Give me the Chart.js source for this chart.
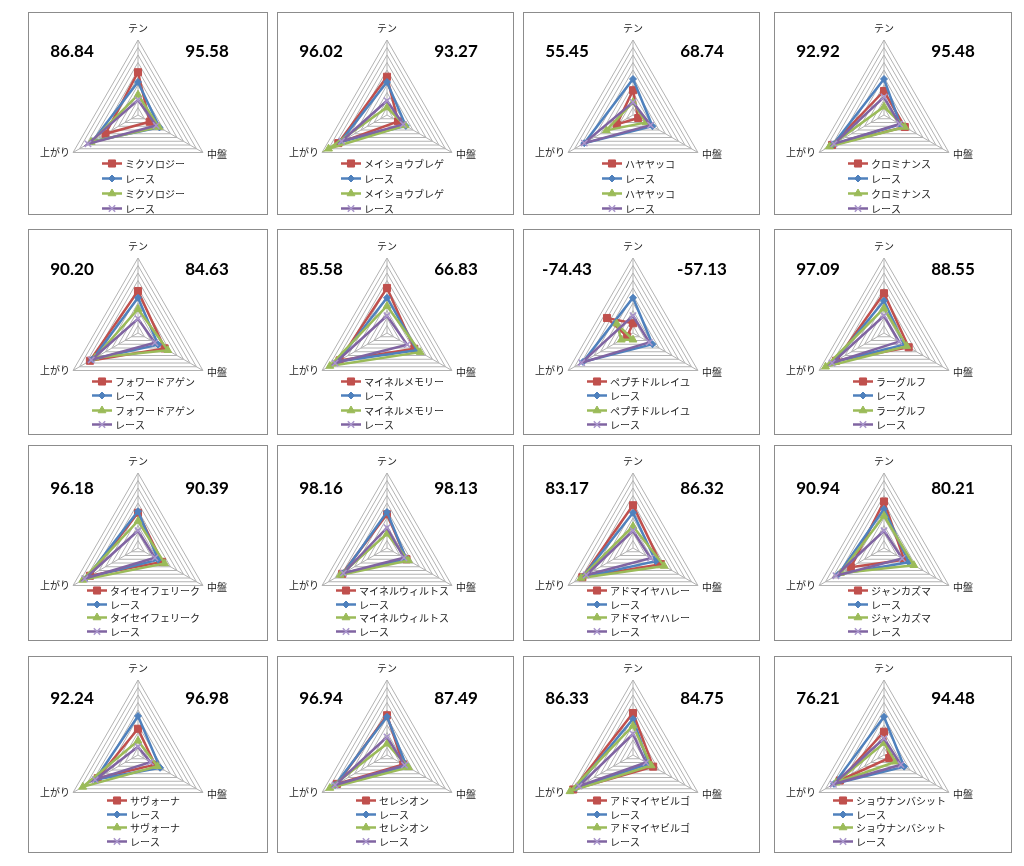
<!DOCTYPE html>
<html>
<head>
<meta charset="utf-8">
<script src="https://cdn.jsdelivr.net/npm/chart.js@4"></script>
<style>
  body { margin: 0; background: #fff; width: 1024px; height: 866px; position: relative; overflow: hidden; }
  .panel { position: absolute; border: 1px solid #8c8c8c; box-sizing: border-box; background: #fff; }
  .panel canvas { position: absolute; left: 0; top: 0; }
</style>
</head>
<body>
<script>
// axes of every radar (clockwise from the top)
const axisLabels = ['テン', '中盤', '上がり'];
const raceLabel = 'レース';

const horseNames = [
  'ミクソロジー', 'メイショウブレゲ', 'ハヤヤッコ', 'クロミナンス',
  'フォワードアゲン', 'マイネルメモリー', 'ペプチドルレイユ', 'ラーグルフ',
  'タイセイフェリーク', 'マイネルウィルトス', 'アドマイヤハレー', 'ジャンカズマ',
  'サヴォーナ', 'セレシオン', 'アドマイヤビルゴ', 'ショウナンバシット'
];
const leftScores = [86.84, 96.02, 55.45, 92.92, 90.20, 85.58, -74.43, 97.09,
                    96.18, 98.16, 83.17, 90.94, 92.24, 96.94, 86.33, 76.21];
const rightScores = [95.58, 93.27, 68.74, 95.48, 84.63, 66.83, -57.13, 88.55,
                     90.39, 98.13, 86.32, 80.21, 96.98, 87.49, 84.75, 94.48];

// [テン, 中盤, 上がり] per panel
const horseRed = [
  [57, 18, 50], [51, 17, 75], [33, 8, 25], [32, 32, 80],
  [56, 41, 74], [60, 42, 73], [13, -40, 9], [53, 38, 74],
  [47, 37, 74], [45, 30, 69], [57, 43, 78], [62, 31, 51],
  [35, 26, 62], [53, 25, 77], [56, 31, 92], [31, 8, 68]
];
const raceBlue = [
  [44, 33, 70], [44, 29, 72], [48, 30, 75], [48, 25, 78],
  [47, 31, 70], [47, 46, 76], [47, 30, 77], [43, 31, 77],
  [49, 31, 79], [48, 30, 67], [47, 35, 78], [52, 38, 70],
  [52, 34, 66], [51, 30, 80], [48, 24, 88], [51, 31, 77]
];
const horseGreen = [
  [27, 32, 72], [10, 28, 90], [17, 20, 41], [11, 32, 84],
  [32, 46, 66], [36, 51, 88], [-9, -25, 18], [33, 35, 90],
  [36, 41, 85], [19, 33, 72], [29, 48, 80], [43, 46, 67],
  [19, 30, 85], [15, 33, 88], [39, 28, 97], [16, 18, 74]
];
const racePurple = [
  [20, 28, 77], [19, 25, 70], [17, 27, 75], [24, 24, 77],
  [19, 26, 72], [23, 31, 80], [23, 25, 79], [23, 23, 80],
  [23, 26, 82], [27, 26, 67], [23, 27, 72], [23, 28, 74],
  [11, 19, 66], [24, 27, 80], [28, 20, 83], [22, 26, 78]
];

// page layout
const colLeft = [28, 277, 523, 774];
const colWidth = [240, 237, 237, 238];
const rowTop = [12, 229, 445, 656];
const rowHeight = [203, 206, 196, 197];
const rowCenterY = [103, 104, 103, 99];
const rowLegendOffset = [48, 48, 42, 45];
const rowLegendStep = [15, 14.3, 13.7, 13.7];
const rowScoreOffset = [63, 63, 59, 56];
const CX = 110, RAD = 75;

const JP = '"Noto Sans CJK JP", "Noto Sans", sans-serif';

const panelDecor = {
  id: 'panelDecor',
  afterDraw(chart, args, opts) {
    const ctx = chart.ctx;
    const r = chart.scales.r;
    const labels = chart.data.labels;
    ctx.save();

    // axis names
    ctx.fillStyle = '#222';
    ctx.font = '10px ' + JP;
    let p = r.getPointPosition(0, r.drawingArea);
    ctx.textAlign = 'center'; ctx.textBaseline = 'bottom';
    ctx.fillText(labels[0], p.x, p.y - 7);
    p = r.getPointPosition(1, r.drawingArea);
    ctx.textAlign = 'left'; ctx.textBaseline = 'middle';
    ctx.fillText(labels[1], p.x + 4, p.y + 2);
    p = r.getPointPosition(2, r.drawingArea);
    ctx.textAlign = 'right';
    ctx.fillText(labels[2], p.x - 3, p.y);

    // the two scores
    ctx.fillStyle = '#000';
    ctx.font = 'bold 17px Lato, "Open Sans", sans-serif';
    ctx.textAlign = 'center'; ctx.textBaseline = 'middle';
    ctx.fillText(opts.left.toFixed(2), r.xCenter - 66, r.yCenter - opts.scoreOffset);
    ctx.fillText(opts.right.toFixed(2), r.xCenter + 69, r.yCenter - opts.scoreOffset);

    // legend, one entry per line
    ctx.font = '10px ' + JP;
    const sets = chart.data.datasets;
    let maxW = 0;
    sets.forEach(d => { maxW = Math.max(maxW, ctx.measureText(d.label).width); });
    const x0 = Math.round(r.xCenter + 6 - (24 + maxW) / 2);
    sets.forEach((d, i) => {
      const y = Math.round(r.yCenter + opts.legendOffset + i * opts.step) + 0.5;
      ctx.strokeStyle = d.borderColor;
      ctx.lineWidth = 2.5;
      ctx.beginPath(); ctx.moveTo(x0, y); ctx.lineTo(x0 + 20, y); ctx.stroke();
      ctx.fillStyle = d.pointBackgroundColor;
      ctx.strokeStyle = d.pointBorderColor;
      ctx.lineWidth = d.pointBorderWidth;
      Chart.helpers.drawPoint(ctx, { pointStyle: d.pointStyle, radius: d.pointRadius, rotation: 0, borderWidth: d.pointBorderWidth }, x0 + 10, y);
      ctx.fillStyle = '#222';
      ctx.textAlign = 'left'; ctx.textBaseline = 'middle';
      ctx.fillText(d.label, x0 + 23, y + 1);
    });
    ctx.restore();
  }
};

function series(label, data, color, style, radius, order, markColor) {
  return {
    label, data, order,
    borderColor: color, backgroundColor: color, borderWidth: 2.5,
    pointStyle: style, pointRadius: radius, pointHoverRadius: radius,
    pointBackgroundColor: markColor || color, pointBorderColor: markColor || color,
    pointBorderWidth: style === 'crossRot' ? 1.5 : 1,
    fill: false, tension: 0
  };
}

horseNames.forEach((name, k) => {
  const row = Math.floor(k / 4), col = k % 4;
  const W = colWidth[col], H = rowHeight[row];
  const div = document.createElement('div');
  div.className = 'panel';
  div.style.left = colLeft[col] + 'px';
  div.style.top = rowTop[row] + 'px';
  div.style.width = W + 'px';
  div.style.height = H + 'px';
  const cv = document.createElement('canvas');
  cv.width = W - 2; cv.height = H - 2;
  div.appendChild(cv);
  document.body.appendChild(div);

  const cx = CX - 1, cy = rowCenterY[row] - 1;
  new Chart(cv, {
    type: 'radar',
    data: {
      labels: axisLabels,
      datasets: [
        series(name, horseRed[k], '#C0504D', 'rect', 5, 4),
        series(raceLabel, raceBlue[k], '#4F81BD', 'rectRot', 3.5, 3),
        series(name, horseGreen[k], '#9BBB59', 'triangle', 4.5, 2),
        series(raceLabel, racePurple[k], '#8064A2', 'crossRot', 4.5, 1, '#A995CB')
      ]
    },
    options: {
      responsive: false,
      animation: false,
      events: [],
      layout: {
        padding: { left: cx - RAD, top: cy - RAD, right: (W - 2) - (cx + RAD), bottom: (H - 2) - (cy + RAD) }
      },
      scales: {
        r: {
          min: 0, max: 100,
          ticks: { stepSize: 10, display: false },
          grid: { color: '#b2b2b2', lineWidth: 1 },
          angleLines: { color: '#b2b2b2', lineWidth: 1 },
          pointLabels: { display: false }
        }
      },
      plugins: {
        legend: { display: false },
        tooltip: { enabled: false },
        panelDecor: {
          left: leftScores[k], right: rightScores[k],
          scoreOffset: rowScoreOffset[row],
          legendOffset: rowLegendOffset[row], step: rowLegendStep[row]
        }
      }
    },
    plugins: [panelDecor]
  });
});
</script>
</body>
</html>
